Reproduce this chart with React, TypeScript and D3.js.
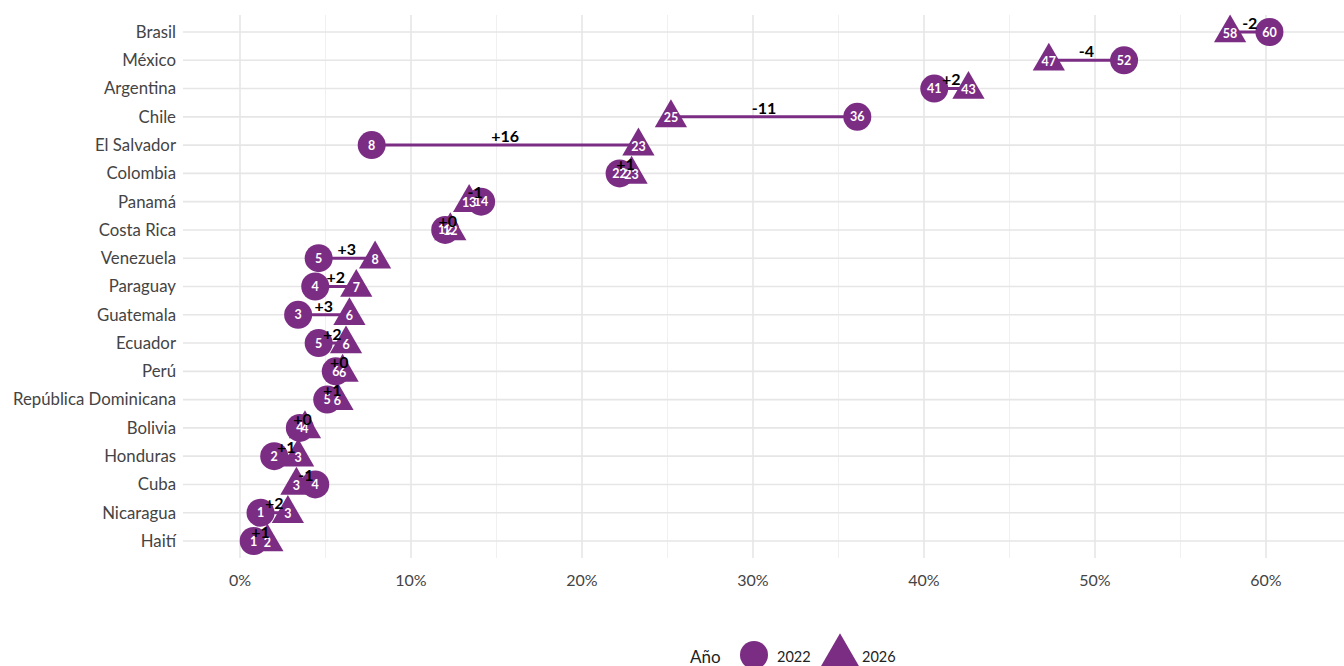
import React from "react";
import * as d3 from "d3";

const countries = [
  "Brasil", "México", "Argentina", "Chile", "El Salvador", "Colombia", "Panamá",
  "Costa Rica", "Venezuela", "Paraguay", "Guatemala", "Ecuador", "Perú",
  "República Dominicana", "Bolivia", "Honduras", "Cuba", "Nicaragua", "Haití",
];
const values2022 = [60.2, 51.7, 40.6, 36.1, 7.7, 22.2, 14.1, 12.0, 4.6, 4.4, 3.4, 4.6, 5.6, 5.1, 3.5, 2.0, 4.4, 1.2, 0.8];
const values2026 = [57.9, 47.3, 42.6, 25.2, 23.3, 22.9, 13.4, 12.3, 7.9, 6.8, 6.4, 6.2, 6.0, 5.7, 3.8, 3.4, 3.3, 2.8, 1.6];
const xTicks = [0, 10, 20, 30, 40, 50, 60];
const xMinor = [5, 15, 25, 35, 45, 55];
const legendTitle = "Año";
const legendYears = ["2022", "2026"];

const W = 1344;
const H = 666;
const PURPLE = "#7b2d84";
const FONT = "Lato, 'Open Sans', sans-serif";

export default function App() {
  const x = d3.scaleLinear().domain([0, 60]).range([240, 1266]);
  const y = d3.scalePoint<string>().domain(countries).range([32, 541]);
  const panelLeft = 183;
  const panelRight = W;
  const panelTop = 15;
  const panelBottom = 558;
  const tri = d3.symbol().type(d3.symbolTriangle).size(450)();
  const triLegend = d3.symbol().type(d3.symbolTriangle).size(620)();
  const fmtDiff = (d: number) => {
    const r = Math.round(d);
    return (r >= 0 ? "+" : "") + r;
  };

  return (
    <div style={{ position: "fixed", left: 0, top: 0 }}>
      <svg width={W} height={H} style={{ display: "block", background: "#fff" }}>
        {/* grid */}
        {xMinor.map((t) => (
          <line key={"mi" + t} x1={x(t)} x2={x(t)} y1={panelTop} y2={panelBottom} stroke="#f0f0f0" strokeWidth={1} />
        ))}
        {xTicks.map((t) => (
          <line key={"ma" + t} x1={x(t)} x2={x(t)} y1={panelTop} y2={panelBottom} stroke="#e6e6e6" strokeWidth={1.6} />
        ))}
        {countries.map((c) => (
          <line key={"h" + c} x1={panelLeft} x2={panelRight} y1={y(c)} y2={y(c)} stroke="#e6e6e6" strokeWidth={1.6} />
        ))}
        {/* axis labels */}
        {countries.map((c) => (
          <text key={"yl" + c} x={176} y={y(c)!} dy="0.35em" textAnchor="end" fontFamily={FONT} fontSize={16.8} fill="#444">
            {c}
          </text>
        ))}
        {xTicks.map((t) => (
          <text key={"xl" + t} x={x(t)} y={580} dy="0.35em" textAnchor="middle" fontFamily={FONT} fontSize={16} fill="#444">
            {t + "%"}
          </text>
        ))}
        {/* segments */}
        {countries.map((c, i) => (
          <line key={"s" + c} x1={x(values2022[i])} x2={x(values2026[i])} y1={y(c)} y2={y(c)} stroke={PURPLE} strokeWidth={3} />
        ))}
        {/* circles */}
        {countries.map((c, i) => (
          <circle key={"c" + c} cx={x(values2022[i])} cy={y(c)} r={14} fill={PURPLE} />
        ))}
        {/* triangles */}
        {countries.map((c, i) => (
          <path key={"t" + c} d={tri!} transform={`translate(${x(values2026[i])},${y(c)! + 1})`} fill={PURPLE} />
        ))}
        {/* point labels */}
        {countries.map((c, i) => (
          <text key={"lc" + c} x={x(values2022[i])} y={y(c)!} dy="0.36em" textAnchor="middle" fontFamily={FONT} fontSize={12.5} fontWeight={700} fill="#fff">
            {Math.round(values2022[i])}
          </text>
        ))}
        {countries.map((c, i) => (
          <text key={"lt" + c} x={x(values2026[i])} y={y(c)! + 1} dy="0.36em" textAnchor="middle" fontFamily={FONT} fontSize={12.5} fontWeight={700} fill="#fff">
            {Math.round(values2026[i])}
          </text>
        ))}
        {/* diff labels */}
        {countries.map((c, i) => (
          <text key={"d" + c} x={(x(values2022[i]) + x(values2026[i])) / 2} y={y(c)! - 9} dy="0.36em" textAnchor="middle" fontFamily={FONT} fontSize={16} fontWeight={700} fill="#000">
            {fmtDiff(values2026[i] - values2022[i])}
          </text>
        ))}
        {/* legend */}
        <text x={690} y={657} dy="0.35em" fontFamily={FONT} fontSize={17} fill="#222">{legendTitle}</text>
        <circle cx={754} cy={655} r={14} fill={PURPLE} />
        <text x={777} y={657} dy="0.35em" fontFamily={FONT} fontSize={14.5} fill="#222">{legendYears[0]}</text>
        <path d={triLegend!} transform="translate(840,655)" fill={PURPLE} />
        <text x={862} y={657} dy="0.35em" fontFamily={FONT} fontSize={14.5} fill="#222">{legendYears[1]}</text>
      </svg>
    </div>
  );
}
